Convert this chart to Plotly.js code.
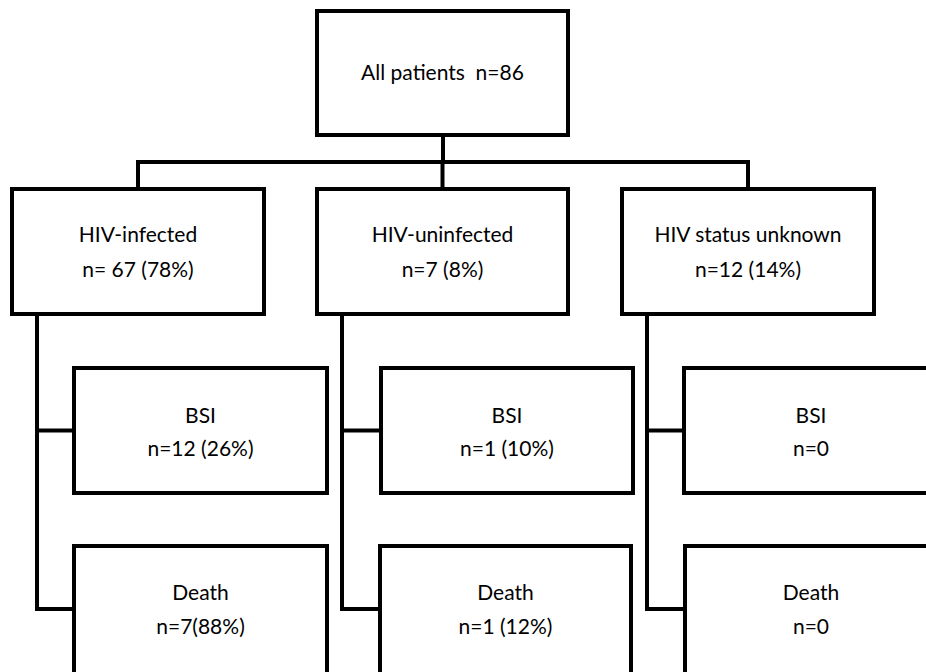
<!DOCTYPE html>
<html>
<head>
<meta charset="utf-8">
<script src="https://cdn.plot.ly/plotly-3.0.1.min.js"></script>
<style>html,body{margin:0;padding:0;background:#fff;}#chart{width:926px;height:672px;}</style>
</head>
<body>
<div id="chart"></div>
<script>
// ---- data ----
const rootLabel = ['All patients  n=86'];
const groupNames = ['HIV-infected', 'HIV-uninfected', 'HIV status unknown'];
const groupCounts = ['n= 67 (78%)', 'n=7 (8%)', 'n=12 (14%)'];
const bsiNames = ['BSI', 'BSI', 'BSI'];
const bsiCounts = ['n=12 (26%)', 'n=1 (10%)', 'n=0'];
const deathNames = ['Death', 'Death', 'Death'];
const deathCounts = ['n=7(88%)', 'n=1 (12%)', 'n=0'];

// ---- layout geometry (pixel-based axis coordinates) ----
const rootBox = {x0: 317, x1: 568, y0: 11, y1: 135};
const groupX = [[12, 264], [317, 568], [622, 874]];
const groupY = [189, 314];
const bsiX = [[74, 327], [381, 633], [684, 940]];
const bsiY = [368, 493];
const deathX = [[74, 327], [380, 631], [685, 940]];
const deathY = [546, 690];
const trunkX = [37, 342, 647];
const busY = 162;
const lineW = 4;
const textShift = 2;

const shapes = [];
const line = {color: '#000', width: lineW};
function rect(x0, x1, y0, y1) {
  shapes.push({type: 'rect', xref: 'x', yref: 'y', x0, x1, y0, y1, line, fillcolor: 'rgba(0,0,0,0)'});
}
function seg(x0, y0, x1, y1) {
  shapes.push({type: 'line', xref: 'x', yref: 'y', x0, y0, x1, y1, line});
}
rect(rootBox.x0, rootBox.x1, rootBox.y0, rootBox.y1);
const rootCx = (rootBox.x0 + rootBox.x1) / 2;
seg(rootCx + 0.5, rootBox.y1, rootCx + 0.5, busY);
const gCx = groupX.map(g => (g[0] + g[1]) / 2);
seg(gCx[0] - 2, busY, gCx[2] + 2, busY);
gCx.forEach(cx => seg(cx, busY - 2, cx, groupY[0]));
groupX.forEach(g => rect(g[0], g[1], groupY[0], groupY[1]));
bsiX.forEach(b => rect(b[0], b[1], bsiY[0], bsiY[1]));
deathX.forEach(d => rect(d[0], d[1], deathY[0], deathY[1]));
const bsiMid = (bsiY[0] + bsiY[1]) / 2;
const deathMid = 609;
trunkX.forEach((tx, i) => {
  seg(tx, groupY[1], tx, deathMid + 2);
  seg(tx - 2, bsiMid, bsiX[i][0], bsiMid);
  seg(tx - 2, deathMid, deathX[i][0], deathMid);
});

// ---- text ----
const tx = [], ty = [], tt = [];
tx.push(rootCx); ty.push(73 + textShift); tt.push(rootLabel[0]);
groupNames.forEach((n, i) => {
  tx.push(gCx[i]); ty.push(235 + textShift); tt.push(n);
  tx.push(gCx[i]); ty.push(270 + textShift); tt.push(groupCounts[i]);
});
bsiNames.forEach((n, i) => {
  const cx = i === 2 ? 811 : (bsiX[i][0] + bsiX[i][1]) / 2;
  tx.push(cx); ty.push(416 + textShift); tt.push(n);
  tx.push(cx); ty.push(449 + textShift); tt.push(bsiCounts[i]);
});
deathNames.forEach((n, i) => {
  const cx = i === 2 ? 811 : (deathX[i][0] + deathX[i][1]) / 2;
  tx.push(cx); ty.push(593 + textShift); tt.push(n);
  tx.push(cx); ty.push(627 + textShift); tt.push(deathCounts[i]);
});

const trace = {
  type: 'scatter', mode: 'text', x: tx, y: ty, text: tt,
  textposition: 'middle center',
  textfont: {family: 'Lato, "Open Sans", sans-serif', size: 21, color: '#000'},
  hoverinfo: 'skip', showlegend: false
};

const axis = {showgrid: false, zeroline: false, showticklabels: false, showline: false, ticks: '', fixedrange: true};
const layout = {
  width: 926, height: 672,
  margin: {l: 0, r: 0, t: 0, b: 0, pad: 0},
  paper_bgcolor: '#fff', plot_bgcolor: '#fff',
  xaxis: Object.assign({range: [0, 926]}, axis),
  yaxis: Object.assign({range: [672, 0]}, axis),
  shapes: shapes,
  showlegend: false
};
Plotly.newPlot('chart', [trace], layout, {displayModeBar: false, staticPlot: true});
</script>
</body>
</html>
